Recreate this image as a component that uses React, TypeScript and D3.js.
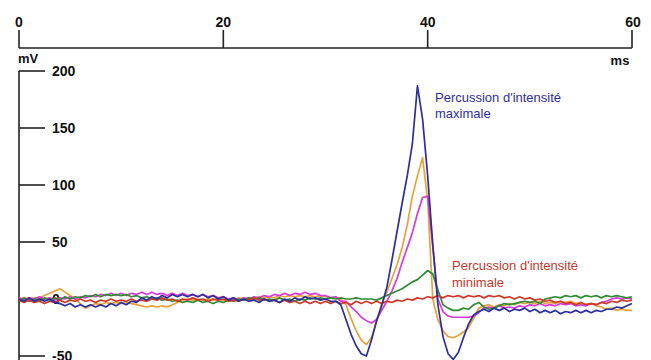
import React from "react";
import * as d3 from "d3";

// time grid (ms), 0.5 ms step
const timeMs: number[] = d3.range(0, 60.0001, 0.5);

const xTicks = [0, 20, 40, 60];
const yTicks = [200, 150, 100, 50, 0, -50];

// Percussion d'intensité maximale (blue)
const blueMax = [
  0, -2, 1, -2, 0, -2, 0, -3, -4, -6,
  -4, -7, -5, -7, -5, -7, -5, -7, -4, -6,
  -3, -5, -2, -3, 1, -1, 2, 0, 3, 1,
  4, 2, 4, 2, 4, 2, 4, 1, 3, 0,
  2, -1, 1, -2, 0, -2, -1, -3, 0, -2,
  -1, -3, 0, -2, 1, -1, 2, 0, 1, -1,
  0, -2, -2, -5, -18, -31, -41, -48, -50, -36,
  -19, -6, 10, 34, 59, 84, 108, 136, 187, 158,
  108, 48, -5, -33, -48, -53, -47, -34, -22, -14,
  -11, -9, -11, -8, -10, -8, -11, -9, -10, -8,
  -11, -9, -12, -10, -12, -10, -13, -11, -12, -10,
  -12, -10, -12, -10, -11, -9, -9, -7, -8, -6,
  -4,
];

const orange = [
  0, 1, 0, 1, 1, 3, 5, 7, 9, 6,
  3, 0, -4, -8, -6, -4, -5, -3, -4, -3,
  -4, -3, -4, -5, -6, -7, -6, -7, -6, -7,
  -5, -3, -1, 0, -1, 0, -1, 0, -1, 0,
  -1, 0, -1, 1, 0, 1, 0, 2, 1, 2,
  1, 3, 2, 3, 2, 3, 2, 3, 2, 3,
  2, 1, 2, 0, -5, -17, -28, -36, -40, -34,
  -20, -4, 6, 18, 30, 45, 65, 90, 108, 124,
  87, 0, -18, -28, -33, -34, -32, -29, -25, -17,
  -8, -6, -5, -7, -5, -6, -4, -5, -3, -4,
  -3, -4, -2, -4, -3, -4, -2, -3, -2, -4,
  -3, -5, -4, -6, -7, -9, -8, -10, -9, -10,
  -10,
];

const magenta = [
  1, -1, 1, 0, 2, 0, 1, -1, 1, 0,
  2, 0, 2, 1, 3, 2, 4, 3, 5, 3,
  5, 3, 5, 4, 6, 4, 6, 4, 5, 3,
  5, 3, 5, 3, 4, 2, 4, 2, 3, 1,
  2, 0, 1, -1, 1, 0, 2, 1, 3, 2,
  4, 3, 5, 3, 5, 4, 6, 4, 5, 3,
  3, 1, 2, -2, -2, -7, -11, -16, -19, -21,
  -18, -10, -2, 7, 18, 32, 45, 58, 75, 89,
  90, 46, 0, -11, -15, -16, -16, -16, -16, -15,
  -12, -8, -7, -8, -6, -8, -7, -8, -6, -7,
  -5, -6, -4, -6, -5, -6, -4, -5, -4, -6,
  -5, -6, -4, -5, -3, -2, 0, 1, 0, 1,
  0,
];

const green = [
  -2, 1, -2, 0, -2, 1, -1, 1, -1, 2,
  0, 2, 1, 3, 2, 4, 2, 4, 3, 4,
  3, 4, 2, 3, 1, 2, 0, 1, -1, 0,
  -2, -1, -3, -2, -3, -1, -3, -2, -4, -2,
  -3, -1, -2, 0, -1, 1, 0, 1, -1, 0,
  -1, 1, -1, 0, -2, 0, -1, 1, 0, 1,
  0, 1, 0, 1, 0, 0, 1, 0, 0, 0,
  -1, 1, 3, 5, 7, 9, 12, 15, 17, 21,
  25, 22, 8, -5, -8, -10, -10, -8, -9, -5,
  -3, -7, -9, -8, -6, -4, -5, -4, -3, -2,
  -3, -2, -4, 0, 1, 2, 1, 3, 2, 3,
  1, 3, 2, 3, 1, 3, 2, 3, 2, 1,
  2,
];

// Percussion d'intensité minimale (red)
const redMin = [
  -1, -3, -1, -3, -2, -4, -2, -3, -1, -3,
  -1, -2, 0, -2, -1, -3, -1, -2, 0, -2,
  -1, -2, 0, -2, -1, -2, 0, -1, 1, -1,
  0, -2, 0, -1, 1, -1, 0, -2, 0, -1,
  0, -2, -1, -2, 0, -1, 1, -1, 0, -2,
  -1, -3, -1, -3, -2, -4, -2, -4, -2, -4,
  -2, -4, -2, -4, -3, -5, -2, -4, -2, -4,
  -2, -4, -2, -3, -1, -2, 0, -1, 1, 0,
  2, 1, 3, 1, 3, 2, 3, 1, 3, 2,
  3, 1, 3, 2, 3, 1, 2, 0, 2, 0,
  1, -1, 0, -2, -1, -3, -2, -4, -3, -5,
  -3, -5, -4, -5, -3, -4, -2, -3, -1, -2,
  -1,
];

const series = [
  { name: "orange", values: orange, color: "#e8a23c" },
  { name: "magenta", values: magenta, color: "#d93ad9" },
  { name: "green", values: green, color: "#2f8a35" },
  { name: "red", values: redMin, color: "#cc3a2a" },
  { name: "blue", values: blueMax, color: "#2e2f9c" },
];

const W = 651;
const H = 360;

export default function App() {
  const x = d3.scaleLinear().domain([0, 60]).range([19, 632]);
  const y = d3.scaleLinear().domain([-50, 200]).range([356, 71]);
  const line = d3
    .line<number>()
    .x((_, i) => x(timeMs[i]))
    .y((d) => y(d))
    .curve(d3.curveLinear);

  const axisFont = "'Liberation Sans', Arial, sans-serif";
  const axisTop = 48;
  const axisLeft = 19;

  return (
    <div style={{ position: "absolute", left: 0, top: 0 }}>
      <svg width={W} height={H} style={{ display: "block", background: "#fff" }}>
        <rect x={0} y={0} width={W} height={H} fill="#fff" />
        {/* top time axis */}
        <line x1={x(0)} x2={x(60)} y1={axisTop} y2={axisTop} stroke="#222" strokeWidth={1.6} />
        {xTicks.map((t) => (
          <g key={t}>
            <line x1={x(t)} x2={x(t)} y1={30} y2={axisTop} stroke="#222" strokeWidth={1.6} />
            <text
              x={x(t) + (t === 60 ? 1 : 0)}
              y={27}
              textAnchor="middle"
              fontFamily={axisFont}
              fontWeight="bold"
              fontSize={14}
              fill="#111"
            >
              {t}
            </text>
          </g>
        ))}
        <text x={620} y={65} textAnchor="middle" fontFamily={axisFont} fontWeight="bold" fontSize={13} fill="#111">
          ms
        </text>

        {/* left voltage axis */}
        <text x={28} y={63} textAnchor="middle" fontFamily={axisFont} fontWeight="bold" fontSize={13} fill="#111">
          mV
        </text>
        <line x1={axisLeft} x2={axisLeft} y1={y(200)} y2={H} stroke="#222" strokeWidth={1.6} />
        {yTicks.map((v) => (
          <g key={v}>
            <line x1={axisLeft} x2={45} y1={y(v)} y2={y(v)} stroke="#222" strokeWidth={1.6} />
            <text
              x={52}
              y={y(v) + 5}
              fontFamily={axisFont}
              fontWeight="bold"
              fontSize={14}
              fill="#111"
            >
              {v}
            </text>
          </g>
        ))}

        {/* traces */}
        {series.map((s) => (
          <path
            key={s.name}
            d={line(s.values) || ""}
            fill="none"
            stroke={s.color}
            strokeWidth={1.7}
            strokeLinejoin="round"
          />
        ))}

        {/* annotations */}
        <text fontFamily="'Liberation Sans', Arial, sans-serif" fontSize={13} fill="#2e2f9c">
          <tspan x={435} y={102}>Percussion d'intensité</tspan>
          <tspan x={435} y={118}>maximale</tspan>
        </text>
        <text fontFamily="'Liberation Sans', Arial, sans-serif" fontSize={13} fill="#c23a2c">
          <tspan x={452} y={270}>Percussion d'intensité</tspan>
          <tspan x={452} y={287}>minimale</tspan>
        </text>
      </svg>
    </div>
  );
}
